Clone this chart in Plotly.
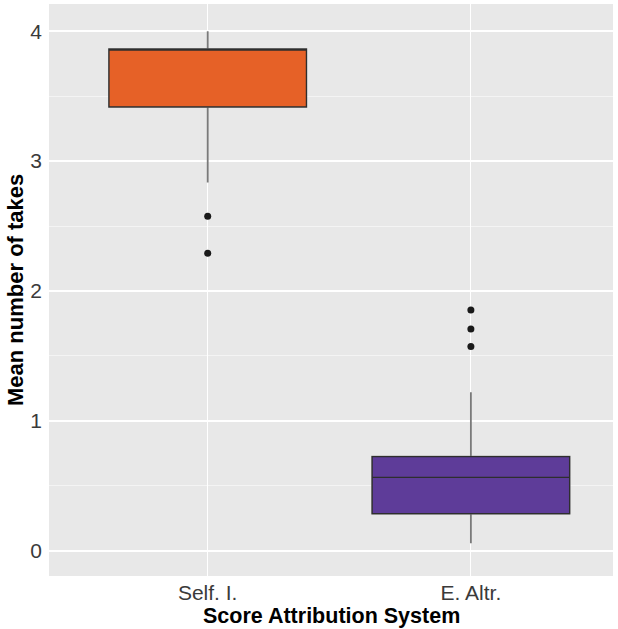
import plotly.graph_objects as go

categories = ["Self. I.", "E. Altr."]
q1 = [3.418, 0.285]
median = [3.863, 0.565]
q3 = [3.863, 0.724]
lower_whisker = [2.835, 0.057]
upper_whisker = [4.0, 1.22]
outliers_self = [2.576, 2.291]
outliers_altr = [1.854, 1.708, 1.572]
colors = ["#E66127", "#5E3C99"]

fig = go.Figure()

# whisker layer (grey lines)
for i, c in enumerate(categories):
    fig.add_trace(go.Box(
        x=[c], q1=[q1[i]], median=[median[i]], q3=[q3[i]],
        lowerfence=[lower_whisker[i]], upperfence=[upper_whisker[i]],
        fillcolor=colors[i], line=dict(color="#7a7a7a", width=1.8),
        whiskerwidth=0, width=0.75, boxpoints=False, showlegend=False,
        hoverinfo="skip"))
# box outline layer (dark)
for i, c in enumerate(categories):
    fig.add_trace(go.Box(
        x=[c], q1=[q1[i]], median=[median[i]], q3=[q3[i]],
        lowerfence=[q1[i]], upperfence=[q3[i]],
        fillcolor=colors[i], line=dict(color="#2e2e2e", width=1.2),
        whiskerwidth=0, width=0.75, boxpoints=False, showlegend=False))

fig.add_trace(go.Scatter(
    x=[categories[0]] * len(outliers_self) + [categories[1]] * len(outliers_altr),
    y=outliers_self + outliers_altr, mode="markers",
    marker=dict(color="#1a1a1a", size=7), showlegend=False))

fig.update_layout(
    width=618, height=629,
    margin=dict(l=49, r=5, t=4, b=53),
    paper_bgcolor="white", plot_bgcolor="#E8E8E8",
    boxmode="overlay",
    font=dict(family="Liberation Sans, Arial, sans-serif", color="#3a3a3a"),
    xaxis=dict(
        type="category", categoryorder="array", categoryarray=categories,
        range=[-0.603, 1.54], showgrid=True, gridcolor="white", gridwidth=1.3,
        ticks="", tickfont=dict(size=21, color="#3a3a3a"),
        ticklabelstandoff=2, automargin=False,
        zeroline=False, showline=False),
    yaxis=dict(
        range=[-0.195, 4.21], tickvals=[0, 1, 2, 3, 4],
        showgrid=True, gridcolor="white", gridwidth=1.6,
        minor=dict(tickvals=[0.5, 1.5, 2.5, 3.5], showgrid=True,
                   gridcolor="#F4F4F4", gridwidth=0.8),
        ticks="", tickfont=dict(size=21, color="#3a3a3a"),
        ticklabelstandoff=6, automargin=False,
        zeroline=False, showline=False),
    annotations=[
        dict(text="<b>Score Attribution System</b>", xref="paper", yref="paper",
             x=0.5, y=-0.07, xanchor="center", yanchor="middle",
             showarrow=False, font=dict(size=21.5, color="black")),
        dict(text="<b>Mean number of takes</b>", xref="paper", yref="paper",
             x=-0.0603, y=0.5, xanchor="center", yanchor="middle", textangle=-90,
             showarrow=False, font=dict(size=22, color="black")),
    ],
)

fig.write_html("out.html", config={"displayModeBar": False},
               post_script="document.body.style.margin='0';document.body.style.overflow='hidden';")
